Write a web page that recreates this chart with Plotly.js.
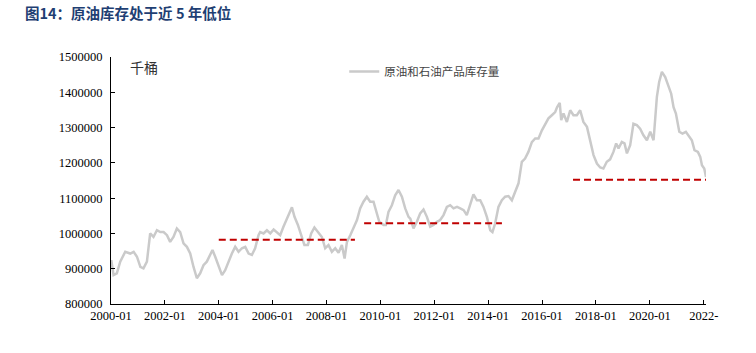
<!DOCTYPE html>
<html>
<head>
<meta charset="utf-8">
<script src="https://cdn.plot.ly/plotly-3.0.1.min.js"></script>
<style>html,body{margin:0;padding:0;background:#fff;}#chart{width:756px;height:353px;}</style>
</head>
<body>
<div id="chart"></div>
<script>
// Crude oil + petroleum products inventory (thousand barrels)
const dates = [
"2000-01-05","2000-02-05","2000-03-20","2000-05-05","2000-07-12","2000-09-18","2000-11-03","2000-12-18",
"2001-02-02","2001-03-16","2001-05-02","2001-06-15","2001-07-30","2001-09-15","2001-10-30","2001-12-14",
"2002-01-29","2002-03-13","2002-04-27","2002-06-12","2002-07-27","2002-09-10","2002-10-26","2002-12-10",
"2003-01-24","2003-03-10","2003-04-24","2003-06-08","2003-07-23","2003-09-07","2003-10-08","2003-11-14","2003-12-28",
"2004-02-14","2004-03-28","2004-05-12","2004-06-27","2004-08-11","2004-09-25","2004-11-10","2004-12-25",
"2005-02-09","2005-03-25","2005-05-08","2005-06-23","2005-07-15","2005-08-30","2005-10-15","2005-11-30",
"2006-01-14","2006-02-28","2006-04-13","2006-05-27","2006-07-12","2006-08-26","2006-09-19","2006-10-24","2006-12-09",
"2007-01-23","2007-03-07","2007-04-23","2007-06-07","2007-07-21","2007-09-14","2007-10-30","2007-12-14",
"2008-01-28","2008-03-14","2008-04-28","2008-06-12","2008-07-27","2008-09-02","2008-10-04","2008-11-18",
"2009-01-02","2009-02-17","2009-04-01","2009-05-16","2009-07-01","2009-08-15","2009-09-29","2009-11-01","2009-12-16",
"2010-02-13","2010-03-15","2010-04-20","2010-06-05","2010-07-20","2010-09-03","2010-10-19","2010-12-03",
"2011-01-17","2011-02-10","2011-03-25","2011-05-10","2011-06-24","2011-08-08","2011-09-23","2011-11-07","2011-12-21",
"2012-02-06","2012-03-21","2012-05-05","2012-06-20","2012-08-04","2012-09-18","2012-11-04","2012-12-18",
"2013-02-02","2013-03-17","2013-05-01","2013-06-15","2013-08-01","2013-09-15","2013-10-29","2013-12-14",
"2014-01-29","2014-02-28","2014-04-05","2014-05-20","2014-07-05","2014-08-19","2014-10-03","2014-11-18",
"2015-01-02","2015-02-16","2015-04-02","2015-05-16","2015-06-30","2015-08-16","2015-09-30","2015-11-14","2015-12-30",
"2016-02-14","2016-03-28","2016-05-13","2016-06-27","2016-07-24","2016-08-28","2016-09-17","2016-10-18","2016-12-03",
"2017-01-17","2017-03-02","2017-04-17","2017-06-01","2017-07-15","2017-09-01","2017-10-15","2017-11-29",
"2018-01-14","2018-02-28","2018-04-12","2018-05-28","2018-07-12","2018-08-26","2018-10-02","2018-11-03","2018-12-18",
"2019-01-23","2019-02-25","2019-04-10","2019-05-24","2019-07-09","2019-08-23","2019-10-07","2019-11-23",
"2020-01-07","2020-02-21","2020-03-14","2020-04-06","2020-05-07","2020-06-13","2020-07-28","2020-09-11","2020-10-17","2020-11-18","2020-12-20",
"2021-02-04","2021-03-19","2021-05-04","2021-06-09","2021-07-24","2021-08-29","2021-10-14","2021-11-15","2021-12-08",
"2022-01-08","2022-02-01"
];
const stocks = [
924500,882000,887000,920000,948000,943000,948000,934000,
905000,901000,920000,1000000,990000,1009000,1004000,1004000,
995000,976000,990000,1014000,1004000,972000,962000,943000,
905000,873000,887000,910000,920000,939000,953000,934000,910000,
882000,896000,920000,943000,962000,948000,958000,962000,
943000,939000,958000,995000,1004000,1000000,1009000,1000000,
1011000,1004000,995000,1019000,1042000,1061000,1074000,1047000,1024000,
995000,967000,967000,1000000,1017000,1004000,990000,958000,
967000,948000,958000,945000,967000,929000,976000,995000,
1014000,1038000,1071000,1090000,1104000,1090000,1090000,1066000,1033000,
1024000,1024000,1061000,1080000,1108000,1123000,1104000,1071000,
1047000,1042000,1014000,1033000,1057000,1068000,1047000,1019000,1024000,
1033000,1038000,1052000,1075000,1080000,1071000,1075000,1071000,
1066000,1052000,1080000,1111000,1094000,1094000,1075000,1047000,
1009000,1004000,1028000,1075000,1094000,1104000,1106000,1094000,
1118000,1142000,1203000,1212000,1231000,1259000,1269000,1269000,1292000,
1311000,1326000,1335000,1344000,1358000,1370000,1321000,1340000,1316000,
1349000,1335000,1335000,1349000,1316000,1302000,1259000,1222000,
1198000,1187000,1184000,1203000,1210000,1231000,1255000,1241000,1259000,
1255000,1227000,1250000,1311000,1307000,1297000,1278000,1264000,
1288000,1264000,1326000,1387000,1429000,1458000,1443000,1415000,1396000,1358000,1340000,
1288000,1283000,1288000,1278000,1264000,1236000,1231000,1217000,1193000,
1184000,1160000
];
// 5-year low reference levels
const low1Dates = ["2004-01-01","2009-01-20"];
const low1Vals  = [982000, 982000];
const low2Dates = ["2009-05-25","2014-07-06"];
const low2Vals  = [1029000, 1029000];
const low3Dates = ["2017-02-24","2022-03-20"];
const low3Vals  = [1152000, 1152000];

const tickVals = ["2000-01-01","2002-01-01","2004-01-01","2006-01-01","2008-01-01","2010-01-01",
                  "2012-01-01","2014-01-01","2016-01-01","2018-01-01","2020-01-01","2022-01-01"];
const tickText = ["2000-01","2002-01","2004-01","2006-01","2008-01","2010-01",
                  "2012-01","2014-01","2016-01","2018-01","2020-01","2022-"];

const serif = "Liberation Serif, Times New Roman, serif";
const cjk = "Noto Sans CJK SC, sans-serif";
const red = "#C00000";

const lowStyle = {color: red, width: 2, dash: "7px,4px"};
const traces = [
  {x: dates, y: stocks, type: "scatter", mode: "lines", name: "原油和石油产品库存量",
   line: {color: "#CACACA", width: 2.5}},
  {x: low1Dates, y: low1Vals, type: "scatter", mode: "lines", line: lowStyle, showlegend: false, hoverinfo: "skip"},
  {x: low2Dates, y: low2Vals, type: "scatter", mode: "lines", line: lowStyle, showlegend: false, hoverinfo: "skip"},
  {x: low3Dates, y: low3Vals, type: "scatter", mode: "lines", line: lowStyle, showlegend: false, hoverinfo: "skip"}
];

const layout = {
  width: 756, height: 353,
  margin: {l: 111, r: 50, t: 57, b: 49, pad: 0},
  paper_bgcolor: "#fff", plot_bgcolor: "#fff",
  title: {text: "<b>图14：原油库存处于近 5 年低位</b>", font: {family: cjk, size: 14.5, color: "#1F3F73"},
          xref: "container", yref: "container", x: 25/756, xanchor: "left", y: 1 - 14/353, yanchor: "middle"},
  showlegend: true,
  legend: {x: 0.392, y: 1.0, xanchor: "left", yanchor: "top", bgcolor: "rgba(0,0,0,0)",
           font: {family: cjk, size: 11.5, color: "#444"}, itemwidth: 30},
  xaxis: {type: "date", range: ["2000-01-01", "2022-02-01"], tickvals: tickVals, ticktext: tickText,
          showgrid: false, zeroline: false, showline: true, linecolor: "#000", linewidth: 1,
          ticks: "inside", ticklen: 4, tickcolor: "#000", ticklabelstandoff: 0,
          tickfont: {family: serif, size: 12.5, color: "#000"}},
  yaxis: {range: [800000, 1500000], dtick: 100000, tick0: 800000, tickformat: "d",
          showgrid: false, zeroline: false, showline: true, linecolor: "#000", linewidth: 1,
          ticks: "inside", ticklen: 4, tickcolor: "#000", ticklabelstandoff: 5,
          tickfont: {family: serif, size: 12.5, color: "#000"}},
  annotations: [
    {text: "千桶", xref: "paper", yref: "paper", x: (128-111)/595, y: (304-67)/247, xanchor: "left", yanchor: "middle",
     showarrow: false, font: {family: cjk, size: 14, color: "#333"}}
  ]
};

Plotly.newPlot("chart", traces, layout, {displayModeBar: false, staticPlot: true});
</script>
</body>
</html>
